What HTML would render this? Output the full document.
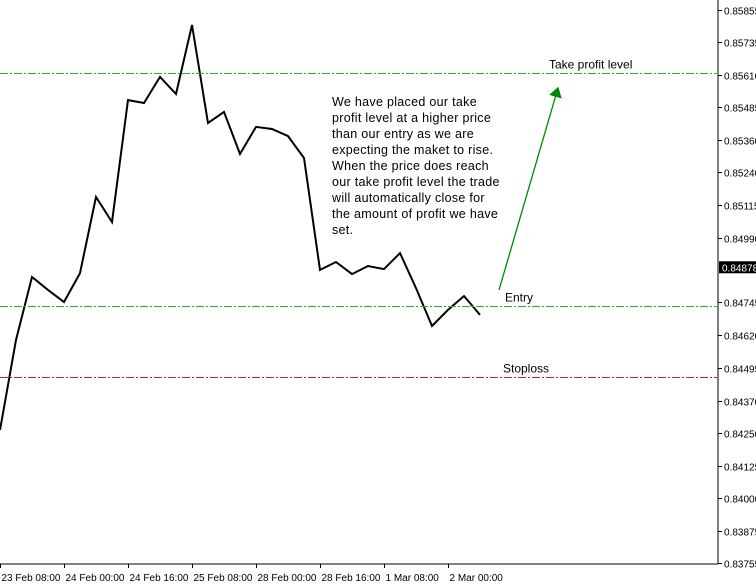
<!DOCTYPE html>
<html><head><meta charset="utf-8"><style>
body{margin:0;background:#fff;}
svg{display:block;font-family:"Liberation Sans",sans-serif;}
</style></head><body>
<svg id="c" width="756" height="585">
<defs><marker id="ah" markerWidth="8" markerHeight="10" refX="7" refY="5" orient="auto"><path d="M0,0 L8,5 L0,10 z" fill="#080"/></marker></defs>
<g id="axes"></g>
<g id="marks"></g>
<g id="grid"></g>
</svg>
<script>
const prices=[0.84260,0.84602,0.84841,0.84792,0.84746,0.84856,0.85145,0.85050,0.85513,0.85502,0.85601,0.85536,0.85798,0.85426,0.85468,0.85308,0.85411,0.85403,0.85376,0.85293,0.84868,0.84898,0.84852,0.84883,0.84871,0.84932,0.84799,0.84655,0.84716,0.84769,0.84697];
const yTicks=["0.85855","0.85735","0.85610","0.85485","0.85360","0.85240","0.85115","0.84990","0.84745","0.84620","0.84495","0.84370","0.84250","0.84125","0.84000","0.83875","0.83755"];
const xTicks=["23 Feb 08:00","24 Feb 00:00","24 Feb 16:00","25 Feb 08:00","28 Feb 00:00","28 Feb 16:00","1 Mar 08:00","2 Mar 00:00"];
const levels=[{name:"take-profit",v:0.85616,color:"#22bb22",label:"Take profit level",lx:549},{name:"entry",v:0.84731,color:"#22bb22",label:"Entry",lx:505},{name:"stoploss",v:0.84461,color:"#cc2222",label:"Stoploss",lx:503}];
const current=0.84878;
const NS="http://www.w3.org/2000/svg";
const y=v=>10+(0.85855-v)/0.021*553;
const x=i=>i*16;
function mk(tag,attrs,parent,text){const e=document.createElementNS(NS,tag);for(const k in attrs)e.setAttribute(k,attrs[k]);if(text!==undefined)e.textContent=text;parent.appendChild(e);return e;}
const ax=document.getElementById('axes'),mg=document.getElementById('marks'),gg=document.getElementById('grid');
let e=mk('line',{x1:718,y1:0,x2:718,y2:564,stroke:'#000'},ax);


e=mk('line',{x1:0,y1:564,x2:718,y2:564,stroke:'#000'},ax);


yTicks.forEach(t=>{const yy=Math.round(y(+t))+0.5;mk('line',{x1:718,y1:yy,x2:722,y2:yy,stroke:'#000'},ax);
const tx=mk('text',{x:724,y:yy+4,'font-size':10,fill:'#000'},ax,t);

});
xTicks.forEach((t,i)=>{const xx=i*64+0.5;mk('line',{x1:xx,y1:564,x2:xx,y2:568,stroke:'#000'},ax);
const tx=mk('text',{x:xx+1,y:581,'font-size':10,fill:'#000'},ax,t);

});
const pts=prices.map((v,i)=>x(i)+','+y(v).toFixed(1)).join(' ');
e=mk('polyline',{points:pts,fill:'none',stroke:'#000','stroke-width':2},mg);


levels.forEach(l=>{const yy=Math.round(y(l.v))+0.5;
const ln=mk('line',{x1:0,y1:yy,x2:717,y2:yy,'stroke-width':1,'stroke-dasharray':'8,2,2,2',style:'stroke:'+l.color},gg);


const tx=mk('text',{x:l.lx,y:yy-5,'font-size':12,fill:'#000'},gg,l.label);

});
const cy=y(current);
e=mk('rect',{x:719,y:cy-6,width:37,height:12,fill:'#000'},ax);


e=mk('text',{x:722,y:cy+4,'font-size':10,fill:'#fff'},ax,current.toFixed(5));


e=mk('line',{x1:499,y1:290,x2:558,y2:88,stroke:'#080','stroke-width':1.3,'marker-end':'url(#ah)'},mg);


const note=["We have placed our take","profit level at a higher price","than our entry as we are","expecting the maket to rise.","When the price does reach","our take profit level the trade","will automatically close for","the amount of profit we have","set."];
const tg=mk('text',{x:332,y:106,'font-size':12.5,fill:'#000','letter-spacing':0.3},mg);


note.forEach((s,i)=>mk('tspan',{x:332,y:106+i*16},tg,s));
</script>
</body></html>
